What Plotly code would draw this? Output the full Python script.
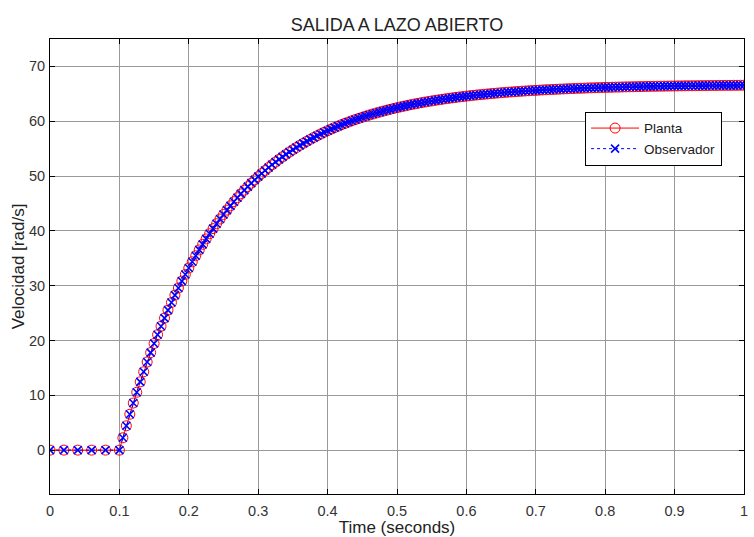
import numpy as np
import plotly.graph_objects as go

# Sample times: coarse before the step, fine after it (seconds)
t_pre = [0.0, 0.02, 0.04, 0.06, 0.08]
t_post = list(np.round(np.arange(0.1, 1.0001, 0.005), 3))
tiempo = t_pre + t_post

# Plant speed [rad/s]
vel_pre = [0, 0, 0, 0, 0]
vel_post = [
    0.00, 2.26, 4.44, 6.55, 8.59, 10.56, 12.46, 14.30, 16.08, 17.79,
    19.45, 21.05, 22.60, 24.09, 25.54, 26.93, 28.28, 29.58, 30.84, 32.05,
    33.23, 34.36, 35.46, 36.52, 37.54, 38.53, 39.48, 40.41, 41.30, 42.16,
    42.99, 43.79, 44.57, 45.32, 46.04, 46.74, 47.42, 48.07, 48.70, 49.31,
    49.90, 50.47, 51.02, 51.55, 52.07, 52.56, 53.04, 53.50, 53.95, 54.38,
    54.80, 55.20, 55.59, 55.97, 56.33, 56.69, 57.02, 57.35, 57.67, 57.98,
    58.27, 58.56, 58.83, 59.10, 59.36, 59.61, 59.85, 60.08, 60.30, 60.52,
    60.73, 60.93, 61.13, 61.31, 61.50, 61.67, 61.84, 62.01, 62.17, 62.32,
    62.47, 62.61, 62.75, 62.89, 63.02, 63.14, 63.26, 63.38, 63.49, 63.60,
    63.70, 63.81, 63.90, 64.00, 64.09, 64.18, 64.26, 64.35, 64.43, 64.50,
    64.58, 64.65, 64.72, 64.79, 64.85, 64.91, 64.97, 65.03, 65.09, 65.14,
    65.20, 65.25, 65.30, 65.34, 65.39, 65.43, 65.48, 65.52, 65.56, 65.60,
    65.63, 65.67, 65.71, 65.74, 65.77, 65.80, 65.83, 65.86, 65.89, 65.92,
    65.95, 65.97, 66.00, 66.02, 66.04, 66.07, 66.09, 66.11, 66.13, 66.15,
    66.17, 66.18, 66.20, 66.22, 66.23, 66.25, 66.27, 66.28, 66.29, 66.31,
    66.32, 66.33, 66.35, 66.36, 66.37, 66.38, 66.39, 66.40, 66.41, 66.42,
    66.43, 66.44, 66.45, 66.46, 66.47, 66.47, 66.48, 66.49, 66.50, 66.50,
    66.51, 66.52, 66.52, 66.53, 66.53, 66.54, 66.54, 66.55, 66.55, 66.56,
    66.57,
]
planta = vel_pre + vel_post
# Observer estimate tracks the plant output
observador = list(planta)

x_ticks = [0, 0.1, 0.2, 0.3, 0.4, 0.5, 0.6, 0.7, 0.8, 0.9, 1]
x_labels = ["0", "0.1", "0.2", "0.3", "0.4", "0.5", "0.6", "0.7", "0.8", "0.9", "1"]
y_ticks = [0, 10, 20, 30, 40, 50, 60, 70]

FONT = "Liberation Sans, Arial, Helvetica, sans-serif"
TXT = "#333333"

fig = go.Figure()
fig.add_trace(go.Scatter(
    x=tiempo, y=planta, name="Planta", mode="lines+markers",
    line=dict(color="#ff0000", width=1),
    marker=dict(symbol="circle-open", size=10, color="#ff0000", line=dict(width=1)),
))
fig.add_trace(go.Scatter(
    x=tiempo, y=observador, name="Observador", mode="lines+markers",
    line=dict(color="#0000ff", width=1, dash="dot"),
    marker=dict(symbol="x-thin-open", size=8, color="#0000ff", line=dict(width=1.6, color="#0000ff")),
))

axis_common = dict(
    showline=True, linecolor="black", linewidth=1, mirror="ticks",
    ticks="inside", ticklen=5, tickcolor="black",
    showgrid=True, gridcolor="#9a9a9a", gridwidth=1,
    zeroline=False, automargin=False,
    tickfont=dict(family=FONT, size=14.5, color=TXT),
)

fig.update_xaxes(
    range=[0, 1], tickvals=x_ticks, ticktext=x_labels, ticklabelstandoff=4,
    title=dict(text="Time (seconds)", font=dict(family=FONT, size=17, color="#222222"), standoff=5),
    **axis_common,
)
fig.update_yaxes(
    range=[-8, 75], tickvals=y_ticks, ticklabelstandoff=1,
    title=dict(text="Velocidad [rad/s]", font=dict(family=FONT, size=17, color="#222222"), standoff=0),
    **axis_common,
)

fig.update_layout(
    width=754, height=537,
    margin=dict(l=50, r=10, t=39, b=43),
    paper_bgcolor="white", plot_bgcolor="white",
    title=dict(text="SALIDA A LAZO ABIERTO", x=0.5, xref="paper",
               y=1 - 25 / 537, yref="container", yanchor="middle", xanchor="center",
               font=dict(family=FONT, size=18, color="#222222"), automargin=False),
    showlegend=True,
    legend=dict(
        x=0.771, y=0.84, xanchor="left", yanchor="top",
        bgcolor="white", bordercolor="black", borderwidth=1,
        font=dict(family=FONT, size=13.5, color="#1a1a1a"),
        tracegroupgap=0, itemwidth=48,
    ),
)

fig.write_html("out.html")
